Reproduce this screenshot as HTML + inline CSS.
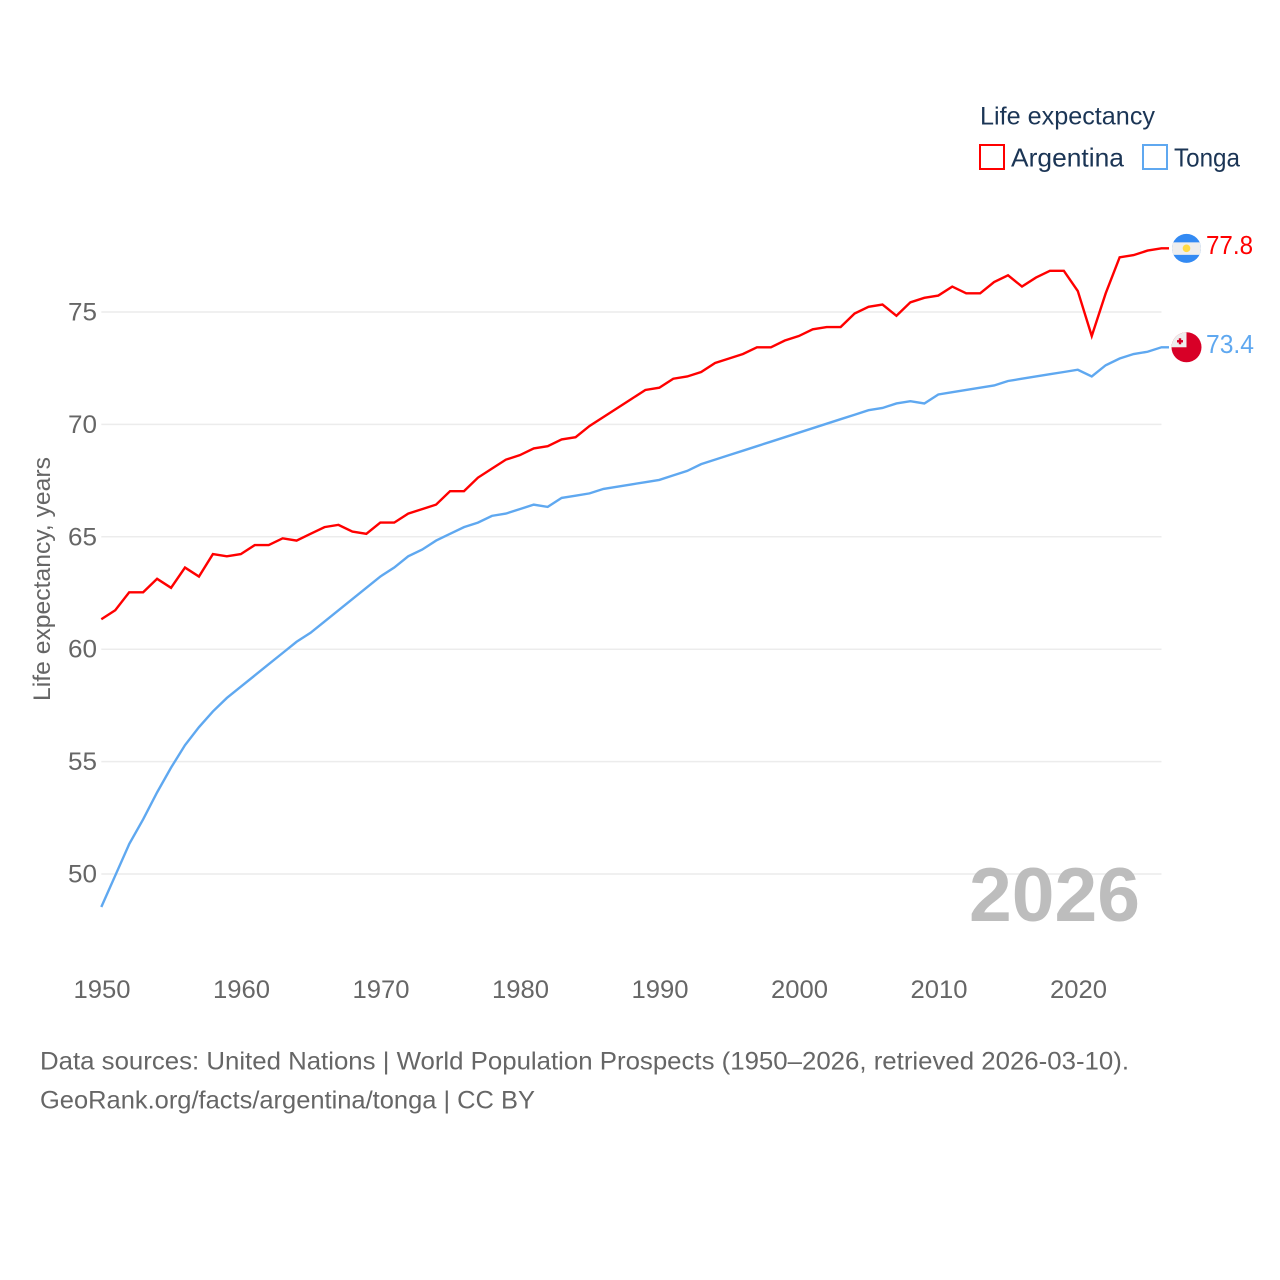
<!DOCTYPE html>
<html lang="en">
<head>
<meta charset="utf-8">
<title>Life expectancy: Argentina and Tonga</title>
<style>
html,body{margin:0;padding:0;background:#fff;}
svg{display:block;font-family:"Liberation Sans",Arial,sans-serif;}
</style>
</head>
<body>
<svg id="chart" xmlns="http://www.w3.org/2000/svg" width="1280" height="1280" viewBox="0 0 1280 1280">
  <rect x="0" y="0" width="1280" height="1280" fill="#fff"/>
  <g id="grid"></g>
  <g id="yticks"></g>
  <g id="xticks"></g>
  <text transform="translate(50,579) rotate(-90)" text-anchor="middle" font-size="24.5" fill="#666" textLength="244" lengthAdjust="spacingAndGlyphs">Life expectancy, years</text>
  <text x="969" y="921" font-size="76" font-weight="700" fill="#bdbdbd" textLength="171" lengthAdjust="spacingAndGlyphs">2026</text>
  <g id="series" transform="translate(0,-0.7)"></g>
  <g id="endmarks"></g>
  <g>
    <text x="980" y="124.5" font-size="25" fill="#1b3555" textLength="175" lengthAdjust="spacingAndGlyphs">Life expectancy</text>
    <rect x="980" y="145" width="24" height="24" fill="none" stroke="#ff0000" stroke-width="2"/>
    <text x="1011" y="166.5" font-size="26" fill="#1b3555" textLength="113" lengthAdjust="spacingAndGlyphs">Argentina</text>
    <rect x="1143" y="145" width="24" height="24" fill="none" stroke="#5fa8f0" stroke-width="2"/>
    <text x="1174" y="166.5" font-size="26" fill="#1b3555" textLength="66" lengthAdjust="spacingAndGlyphs">Tonga</text>
  </g>
  <text x="40" y="1069.5" font-size="25" fill="#666" textLength="1089" lengthAdjust="spacingAndGlyphs">Data sources: United Nations | World Population Prospects (1950–2026, retrieved 2026-03-10).</text>
  <text x="40" y="1108.5" font-size="25" fill="#666" textLength="495" lengthAdjust="spacingAndGlyphs">GeoRank.org/facts/argentina/tonga | CC BY</text>
</svg>
<script>
const years = [1950,1951,1952,1953,1954,1955,1956,1957,1958,1959,1960,1961,1962,1963,1964,1965,1966,1967,1968,1969,1970,1971,1972,1973,1974,1975,1976,1977,1978,1979,1980,1981,1982,1983,1984,1985,1986,1987,1988,1989,1990,1991,1992,1993,1994,1995,1996,1997,1998,1999,2000,2001,2002,2003,2004,2005,2006,2007,2008,2009,2010,2011,2012,2013,2014,2015,2016,2017,2018,2019,2020,2021,2022,2023,2024,2025,2026];
const argentina = [61.3,61.7,62.5,62.5,63.1,62.7,63.6,63.2,64.2,64.1,64.2,64.6,64.6,64.9,64.8,65.1,65.4,65.5,65.2,65.1,65.6,65.6,66.0,66.2,66.4,67.0,67.0,67.6,68.0,68.4,68.6,68.9,69.0,69.3,69.4,69.9,70.3,70.7,71.1,71.5,71.6,72.0,72.1,72.3,72.7,72.9,73.1,73.4,73.4,73.7,73.9,74.2,74.3,74.3,74.9,75.2,75.3,74.8,75.4,75.6,75.7,76.1,75.8,75.8,76.3,76.6,76.1,76.5,76.8,76.8,75.9,73.9,75.8,77.4,77.5,77.7,77.8];
const tonga = [48.5,49.9,51.3,52.4,53.6,54.7,55.7,56.5,57.2,57.8,58.3,58.8,59.3,59.8,60.3,60.7,61.2,61.7,62.2,62.7,63.2,63.6,64.1,64.4,64.8,65.1,65.4,65.6,65.9,66.0,66.2,66.4,66.3,66.7,66.8,66.9,67.1,67.2,67.3,67.4,67.5,67.7,67.9,68.2,68.4,68.6,68.8,69.0,69.2,69.4,69.6,69.8,70.0,70.2,70.4,70.6,70.7,70.9,71.0,70.9,71.3,71.4,71.5,71.6,71.7,71.9,72.0,72.1,72.2,72.3,72.4,72.1,72.6,72.9,73.1,73.2,73.4];
const yTickValues = [50,55,60,65,70,75];
const xTickValues = [1950,1960,1970,1980,1990,2000,2010,2020];

const NS = 'http://www.w3.org/2000/svg';
const xScale = function (year) { return 101.3 + (year - 1950) * 13.95; };
const yScale = function (value) { return 874 - (value - 50) * (874 - 312) / 25; };
const plotRight = xScale(years[years.length - 1]);

function make(tag, parent, attrs, content) {
  const el = document.createElementNS(NS, tag);
  for (const key in attrs) el.setAttribute(key, attrs[key]);
  if (content !== undefined) el.textContent = content;
  parent.appendChild(el);
  return el;
}

const gridGroup = document.getElementById('grid');
const yTickGroup = document.getElementById('yticks');
yTickValues.forEach(function (value) {
  const line = make('line', gridGroup, {x1: xScale(years[0]), x2: plotRight, y1: yScale(value), y2: yScale(value), stroke: '#ececec', 'stroke-width': 1.5});
  
  
  const label = make('text', yTickGroup, {x: 68, y: yScale(value) + 8.5, 'font-size': 25, fill: '#666', textLength: 29, lengthAdjust: 'spacingAndGlyphs'}, String(value));
  
  
});

const xTickGroup = document.getElementById('xticks');
xTickValues.forEach(function (year) {
  const label = make('text', xTickGroup, {x: xScale(year) - 27.8, y: 998, 'font-size': 25, fill: '#666', textLength: 57, lengthAdjust: 'spacingAndGlyphs'}, String(year));
  
  
});

function linePoints(values) {
  const pts = values.map(function (value, i) {
    return xScale(years[i]).toFixed(2) + ',' + yScale(value).toFixed(2);
  });
  /* flat connector running from the last data point toward the flag */
  pts.push((plotRight + 7.5).toFixed(2) + ',' + yScale(values[values.length - 1]).toFixed(2));
  return pts.join(' ');
}

const seriesGroup = document.getElementById('series');
const tongaLine = make('polyline', seriesGroup, {points: linePoints(tonga), fill: 'none', stroke: '#5fa8f0', 'stroke-width': 2.4, 'stroke-linejoin': 'miter'});


const argentinaLine = make('polyline', seriesGroup, {points: linePoints(argentina), fill: 'none', stroke: '#ff0000', 'stroke-width': 2.4, 'stroke-linejoin': 'miter'});



const endGroup = document.getElementById('endmarks');
const argentinaEnd = argentina[argentina.length - 1];
const tongaEnd = tonga[tonga.length - 1];
const flagX = plotRight + 25;
const argentinaFlagY = yScale(argentinaEnd) - 0.7;
const tongaFlagY = yScale(tongaEnd) - 0.7;

/* Argentina flag */
const argClip = make('clipPath', endGroup, {id: 'arg-clip'});
make('circle', argClip, {cx: flagX, cy: argentinaFlagY, r: 14.5});
const argFlag = make('g', endGroup, {'clip-path': 'url(#arg-clip)'});


make('rect', argFlag, {x: flagX - 16, y: argentinaFlagY - 16, width: 32, height: 32, fill: '#338af3'});
make('rect', argFlag, {x: flagX - 16, y: argentinaFlagY - 6, width: 32, height: 12.5, fill: '#eeeeee'});
make('circle', argFlag, {cx: flagX, cy: argentinaFlagY, r: 3.8, fill: '#ffda44'});

const argValue = make('text', endGroup, {x: 1206, y: yScale(argentinaEnd) + 5, 'font-size': 26, fill: '#ff0000', textLength: 47, lengthAdjust: 'spacingAndGlyphs'}, argentinaEnd.toFixed(1));



/* Tonga flag */
const tonClip = make('clipPath', endGroup, {id: 'ton-clip'});
make('circle', tonClip, {cx: flagX, cy: tongaFlagY, r: 15});
const tonFlag = make('g', endGroup, {'clip-path': 'url(#ton-clip)'});


make('rect', tonFlag, {x: flagX - 16, y: tongaFlagY - 16, width: 32, height: 32, fill: '#d80027'});
make('rect', tonFlag, {x: flagX - 16, y: tongaFlagY - 16, width: 16, height: 16, fill: '#eeeeee'});
make('rect', tonFlag, {x: flagX - 9.5, y: tongaFlagY - 7.2, width: 6, height: 2.4, fill: '#d80027'});
make('rect', tonFlag, {x: flagX - 7.7, y: tongaFlagY - 9, width: 2.4, height: 6, fill: '#d80027'});

const tonValue = make('text', endGroup, {x: 1206, y: yScale(tongaEnd) + 5, 'font-size': 26, fill: '#5fa8f0', textLength: 48, lengthAdjust: 'spacingAndGlyphs'}, tongaEnd.toFixed(1));


</script>
</body>
</html>
